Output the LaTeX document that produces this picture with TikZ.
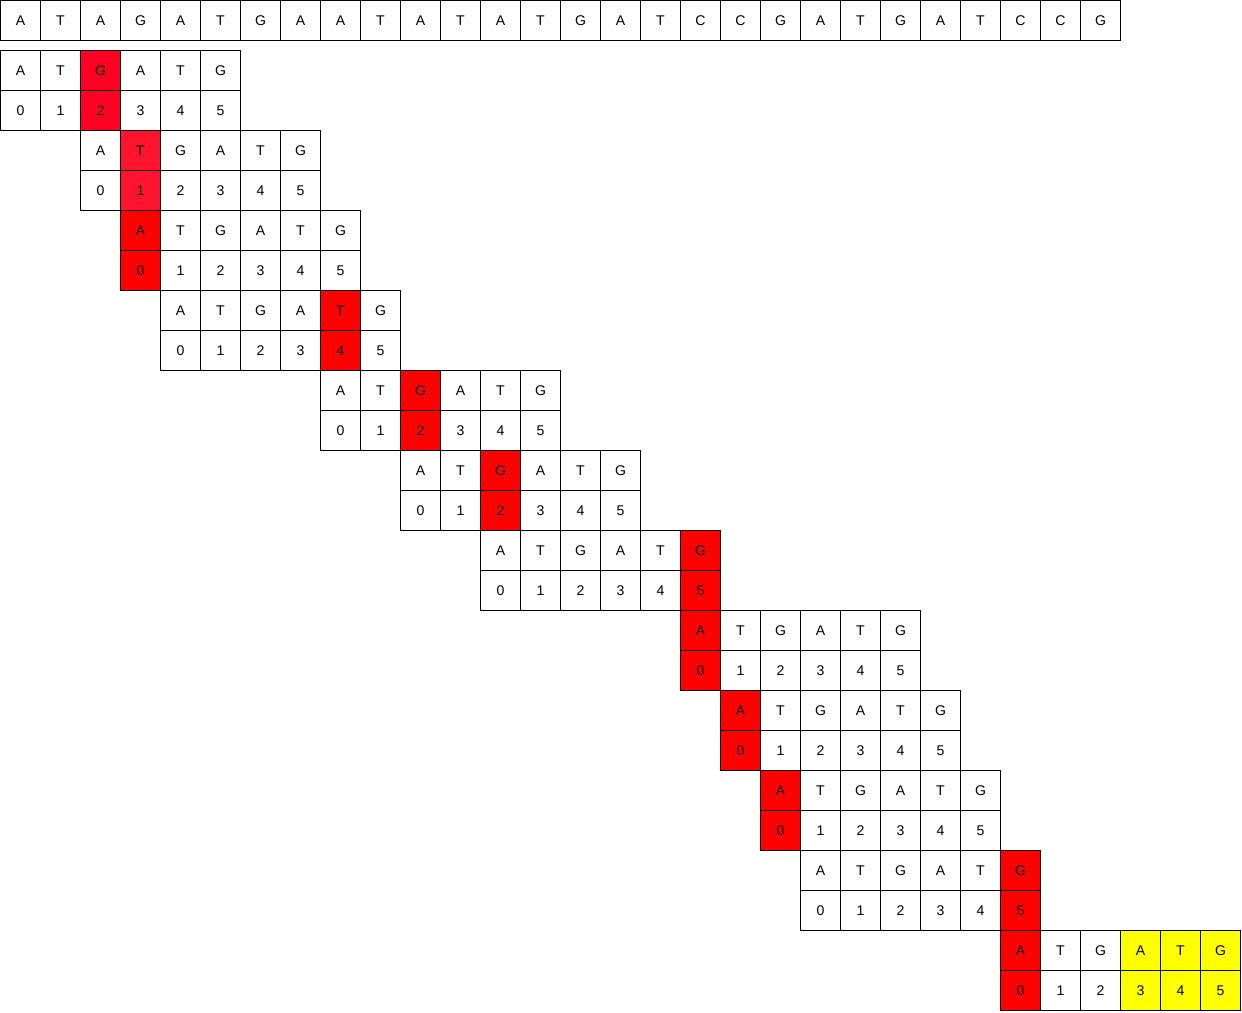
\documentclass[tikz,border=0pt]{standalone}
\usepackage{fontspec}
\setmainfont{Liberation Sans}
\usepackage{xcolor}
\usepackage{tikz}
\usetikzlibrary{positioning}

\definecolor{hitfirst}{RGB}{255,0,34}
\definecolor{hitsecond}{RGB}{255,20,48}
\definecolor{hitred}{RGB}{255,0,0}
\definecolor{matchyellow}{RGB}{255,255,0}

\begin{document}
\begin{tikzpicture}[
    cell/.style={rectangle, draw, line width=0.7pt, minimum size=1cm, inner sep=0pt, font=\fontsize{10}{12}\selectfont}
]
\useasboundingbox (-0.0125,0.0125) rectangle (31.0375,-25.2875);

% text string
\foreach [count=\i] \ch in {A,T,A,G,A,T,G,A,A,T,A,T,A,T,G,A,T,C,C,G,A,T,G,A,T,C,C,G}
    \node[cell] (t\i) at (\i-0.5,-0.5) {\ch};

% pattern shifts: block/offset/mismatch/colour
\foreach \b/\off/\hit/\hue in {1/0/2/hitfirst, 2/2/1/hitsecond, 3/3/0/hitred, 4/4/4/hitred,
        5/8/2/hitred, 6/10/2/hitred, 7/12/5/hitred, 8/17/0/hitred,
        9/18/0/hitred, 10/19/0/hitred, 11/20/5/hitred, 12/25/0/hitred} {
    \pgfmathsetmacro{\rowy}{-(1.75+2*(\b-1))}
    \foreach \i/\ch in {0/A,1/T,2/G,3/A,4/T,5/G} {
        \ifnum\i=\hit \def\cellfill{\hue}\else\def\cellfill{white}\fi
        \ifnum\b=12 \ifnum\i>2 \def\cellfill{matchyellow}\fi\fi
        \node[cell, fill=\cellfill] (p\b l\i) at (\off+\i+0.5,\rowy) {\ch};
        \node[cell, fill=\cellfill] (p\b n\i) at (\off+\i+0.5,\rowy-1) {\i};
    }
}
\end{tikzpicture}
\end{document}
